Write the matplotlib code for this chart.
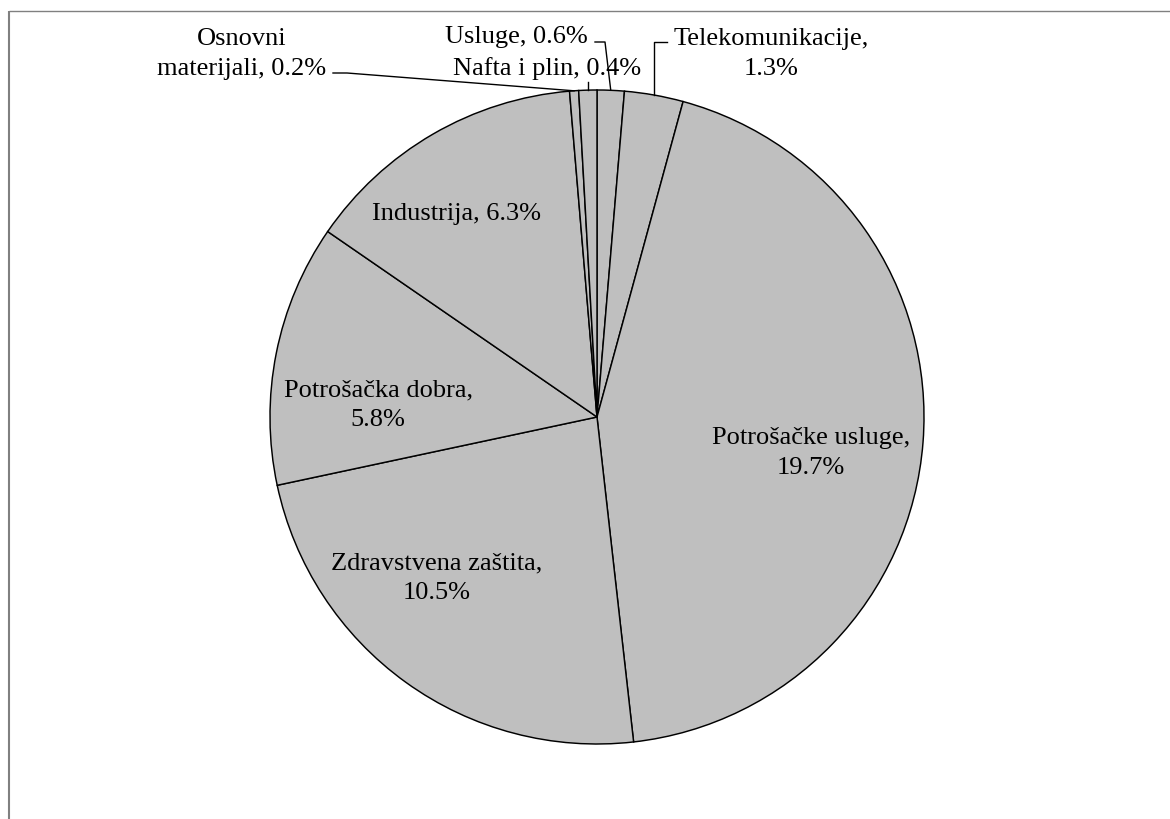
import numpy as np
import matplotlib.pyplot as plt

# podaci (udio portfelja po sektorima, redoslijed u smjeru kazaljke od vrha)
sektori = ['Usluge', 'Telekomunikacije', 'Potrošačke usluge', 'Zdravstvena zaštita',
           'Potrošačka dobra', 'Industrija', 'Osnovni materijali', 'Nafta i plin']
udjeli = [0.6, 1.3, 19.7, 10.5, 5.8, 6.3, 0.2, 0.4]
# gdje se lomi tekst oznake
prelom = ['', '\n', '\n', '\n', '\n', '', '', '']

W, H = 1170, 820
plt.rcParams['font.family'] = ['Liberation Serif', 'DejaVu Serif']
fs = 19
ls = 1.45

fig = plt.figure(figsize=(W / 100, H / 100), dpi=100)

'''os za pitu: centar (597, 418), radijus 327 px'''
cx, cy, r = 597, 418, 327
ax = fig.add_axes([(cx - r) / W, (H - cy - r) / H, 2 * r / W, 2 * r / H])
wedges, _ = ax.pie(udjeli, startangle=90, counterclock=False, radius=1,
                   colors=['#BFBFBF'] * len(udjeli),
                   wedgeprops=dict(edgecolor='black', linewidth=1.05))
ax.set_xlim(-1, 1)
ax.set_ylim(-1, 1)
ax.axis('off')

'''pomoćna os preko cijele slike u pikselima'''
ov = fig.add_axes([0, 0, 1, 1], zorder=5)
ov.set_xlim(0, W)
ov.set_ylim(H, 0)
ov.axis('off')
ov.patch.set_alpha(0)

# okvir (samo gornja i lijeva stranica su vidljive)
ov.plot([9, 9], [H, 11.5], color='#808080', lw=1.5, solid_capstyle='butt')
ov.plot([9, W], [11.5, 11.5], color='#808080', lw=1.0, solid_capstyle='butt')

fig.canvas.draw()


def rub(w):
    '''točka na rubu pite u sredini isječka, u pikselima'''
    th = np.deg2rad((w.theta1 + w.theta2) / 2)
    p = ax.transData.transform((np.cos(th), np.sin(th)))
    return ov.transData.inverted().transform(p)


def oznaka(i):
    tekst = sektori[i] + ',' + (prelom[i] if prelom[i] else ' ') + f'{udjeli[i]}%'
    if sektori[i] == 'Osnovni materijali':
        tekst = 'Osnovni\nmaterijali, ' + f'{udjeli[i]}%'
    return tekst


# pozicije središta oznaka (px) - unutar isječaka
poz_unutra = {
    'Potrošačke usluge': (811, 453),
    'Zdravstvena zaštita': (437, 578),
    'Potrošačka dobra': (378, 405),
    'Industrija': (457, 214),
}
for i, s in enumerate(sektori):
    if s in poz_unutra:
        x, y = poz_unutra[s]
        ov.text(x, y, oznaka(i), ha='center', va='center', fontsize=fs,
                linespacing=ls)

# oznake izvan pite s linijama
poz_van = {
    'Osnovni materijali': (242, 54),
    'Usluge': (516, 37),
    'Nafta i plin': (547, 69),
    'Telekomunikacije': (771, 54),
}
for i, s in enumerate(sektori):
    if s in poz_van:
        x, y = poz_van[s]
        ov.text(x, y, oznaka(i), ha='center', va='center', fontsize=fs,
                linespacing=ls)

rx, ry = rub(wedges[sektori.index('Osnovni materijali')])
ov.plot([333, 347, rx], [74, 74, ry], color='black', lw=1.0)
rx, ry = rub(wedges[sektori.index('Usluge')])
ov.plot([595, 605, rx], [43, 43, ry], color='black', lw=1.0)
rx, ry = rub(wedges[sektori.index('Nafta i plin')])
ov.plot([rx, rx], [83, ry], color='black', lw=1.0)
rx, ry = rub(wedges[sektori.index('Telekomunikacije')])
ov.plot([667, rx, rx], [43, 43, ry], color='black', lw=1.0)

plt.savefig('out.png', dpi=100)
